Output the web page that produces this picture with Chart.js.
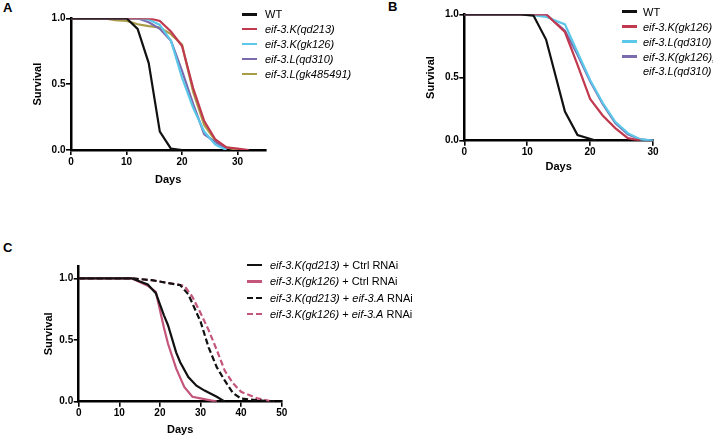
<!DOCTYPE html>
<html>
<head>
<meta charset="utf-8">
<script src="https://cdn.jsdelivr.net/npm/chart.js@4"></script>
<style>
  html, body { margin: 0; padding: 0; background: #fff; }
  #wrap { position: relative; width: 713px; height: 438px; overflow: hidden; background: #fff;
          font-family: 'Liberation Sans', Arial, Helvetica, sans-serif; color: #000; }
  .pane { position: absolute; }
  .plabel { position: absolute; font-weight: bold; font-size: 13px; line-height: 14px; }
  .lg-line { position: absolute; height: 2.5px; }
  .lg-text { position: absolute; font-size: 11px; line-height: 14px; white-space: nowrap; }
</style>
</head>
<body>
<div id="wrap">
  <div class="plabel" style="left:3px;top:1px;">A</div>
  <div class="plabel" style="left:388px;top:0px;">B</div>
  <div class="plabel" style="left:3px;top:241px;">C</div>
  <canvas id="cA" class="pane" width="285" height="200" style="left:0;top:0;"></canvas>
  <canvas id="cB" class="pane" width="310" height="200" style="left:360px;top:0;"></canvas>
  <canvas id="cC" class="pane" width="300" height="218" style="left:0;top:220px;"></canvas>
  <div id="legends"></div>
</div>
<script>
// ---------- DATA ----------
// Panel A
const A_xTicks = [0, 10, 20, 30];
const Y_ticks = [0.0, 0.5, 1.0];
const A_WT_days = [0, 10, 12, 14, 16, 18, 20];
const A_WT_surv = [1, 1, 0.92, 0.66, 0.14, 0.01, 0];
const A_qd213_days = [0, 14, 16, 18, 20, 22, 24, 26, 28, 30, 32];
const A_qd213_surv = [1, 1, 0.98, 0.9, 0.79, 0.47, 0.22, 0.08, 0.02, 0.01, 0];
const A_gk126_days = [0, 12, 14, 16, 18, 20, 22, 24, 26, 28];
const A_gk126_surv = [1, 1, 0.99, 0.95, 0.83, 0.55, 0.32, 0.14, 0.04, 0];
const A_qd310_days = [0, 12, 14, 16, 18, 20, 22, 24, 26, 28];
const A_qd310_surv = [1, 1, 0.97, 0.92, 0.83, 0.6, 0.35, 0.12, 0.06, 0.01];
const A_gk485491_days = [0, 6, 8, 10, 12, 14, 16, 18, 20, 22, 24, 26, 28, 30];
const A_gk485491_surv = [1, 1, 0.985, 0.98, 0.955, 0.94, 0.93, 0.88, 0.8, 0.44, 0.19, 0.07, 0.02, 0];

// Panel B
const B_xTicks = [0, 10, 20, 30];
const B_WT_days = [0, 9, 11, 13, 16, 18, 21];
const B_WT_surv = [1, 1, 0.99, 0.8, 0.23, 0.045, 0];
const B_gk126_days = [0, 13, 16, 18, 20, 22, 24, 26, 28];
const B_gk126_surv = [1, 1, 0.86, 0.6, 0.33, 0.2, 0.1, 0.02, 0];
const B_qd310_days = [0, 10, 13, 16, 18, 20, 22, 24, 26, 28, 30];
const B_qd310_surv = [1, 1, 0.98, 0.92, 0.7, 0.48, 0.3, 0.15, 0.06, 0.01, 0];
const B_double_days = [0, 10, 13, 16, 18, 20, 22, 24, 26, 28, 30];
const B_double_surv = [1, 1, 1, 0.87, 0.68, 0.47, 0.29, 0.14, 0.05, 0.01, 0];

// Panel C
const C_xTicks = [0, 10, 20, 30, 40, 50];
const C_qd213Ctrl_days = [0, 13, 17, 19, 21, 22, 24, 25, 27, 29, 31, 34, 36];
const C_qd213Ctrl_surv = [1, 1, 0.95, 0.88, 0.7, 0.62, 0.4, 0.32, 0.2, 0.13, 0.09, 0.04, 0];
const C_gk126Ctrl_days = [0, 13, 17, 19, 21, 22, 24, 26, 28, 30, 34];
const C_gk126Ctrl_surv = [1, 1, 0.94, 0.89, 0.6, 0.47, 0.27, 0.12, 0.04, 0.027, 0];
const C_qd213A_days = [0, 13, 18, 25, 27, 30, 32, 34, 36, 38, 40, 43, 48];
const C_qd213A_surv = [1, 1, 0.985, 0.945, 0.87, 0.65, 0.44, 0.28, 0.17, 0.07, 0.025, 0.015, 0];
const C_gk126A_days = [0, 13, 18, 26, 28, 30, 32, 34, 36, 38, 40, 44, 48];
const C_gk126A_surv = [1, 1, 0.985, 0.94, 0.85, 0.72, 0.58, 0.42, 0.25, 0.15, 0.08, 0.027, 0];

// ---------- STYLES ----------
const COL = {
  black: '#111111',
  red: '#c0394f',
  cyan: '#5bc8ea',
  purple: '#7b6aae',
  gold: '#a99c46',
  pink: '#c4557b'
};
const FONT = "'Liberation Sans', Arial, Helvetica, sans-serif";

function pts(xs, ys) { return xs.map((x, i) => ({ x: x, y: ys[i] })); }
function ds(xs, ys, color, dash, order) {
  return { data: pts(xs, ys), borderColor: color, borderWidth: 2.2, pointRadius: 0,
           tension: 0, fill: false, borderDash: dash || [], order: order || 0 };
}

function makeChart(id, cfg) {
  return new Chart(document.getElementById(id), {
    type: 'line',
    data: { datasets: cfg.datasets },
    options: {
      responsive: false, animation: false, devicePixelRatio: 1,
      layout: { padding: cfg.padding },
      plugins: { legend: { display: false }, tooltip: { enabled: false } },
      scales: {
        x: {
          type: 'linear', min: 0, max: cfg.xMax,
          afterBuildTicks: s => { s.ticks = cfg.xTicks.map(v => ({ value: v })); },
          afterFit: s => { s.height = cfg.xHeight; s.paddingLeft = 0; s.paddingRight = 0; },
          grid: { display: true, drawOnChartArea: false, color: '#000', lineWidth: 1.6, tickLength: 5 },
          border: { display: true, color: '#000', width: 2.5 },
          ticks: { color: '#000', padding: 1, font: { family: FONT, size: 10, weight: 'bold' },
                   maxRotation: 0, autoSkip: false, callback: v => String(v) },
          title: { display: true, text: 'Days', color: '#000',
                   font: { family: FONT, size: 11, weight: 'bold' }, padding: { top: 0, bottom: cfg.xTitlePad } }
        },
        y: {
          type: 'linear', min: 0, max: cfg.yMax,
          afterBuildTicks: s => { s.ticks = Y_ticks.map(v => ({ value: v })); },
          afterFit: s => { s.width = cfg.yWidth; s.paddingTop = 0; s.paddingBottom = 0; },
          grid: { display: true, drawOnChartArea: false, color: '#000', lineWidth: 1.6, tickLength: 5 },
          border: { display: true, color: '#000', width: 2.5 },
          ticks: { color: '#000', padding: 0.5, font: { family: FONT, size: 10, weight: 'bold' },
                   autoSkip: false, callback: v => Number(v).toFixed(1) },
          title: { display: true, text: 'Survival', color: '#000',
                   font: { family: FONT, size: 11, weight: 'bold' }, padding: { top: cfg.yTitlePad, bottom: 0 } }
        }
      }
    }
  });
}

makeChart('cA', {
  xMax: 35, yMax: 1.0, xTicks: A_xTicks,
  padding: { left: 0, top: 18.3, right: 19.7, bottom: 10 },
  yWidth: 71, xHeight: 40, xTitlePad: 3.4, yTitlePad: 31.4,
  datasets: [
    ds(A_WT_days, A_WT_surv, COL.black, null, 0),
    ds(A_qd213_days, A_qd213_surv, COL.red, null, 1),
    ds(A_gk126_days, A_gk126_surv, COL.cyan, null, 2),
    ds(A_qd310_days, A_qd310_surv, COL.purple, null, 3),
    ds(A_gk485491_days, A_gk485491_surv, COL.gold, null, 4)
  ]
});

makeChart('cB', {
  xMax: 30, yMax: 1.0, xTicks: B_xTicks,
  padding: { left: 0, top: 14.3, right: 17, bottom: 19.3 },
  yWidth: 104.3, xHeight: 40, xTitlePad: 7.4, yTitlePad: 64.4,
  datasets: [
    ds(B_WT_days, B_WT_surv, COL.black, null, 0),
    ds(B_gk126_days, B_gk126_surv, COL.red, null, 1),
    ds(B_double_days, B_double_surv, COL.purple, null, 3),
    ds(B_qd310_days, B_qd310_surv, COL.cyan, null, 2)
  ]
});

makeChart('cC', {
  xMax: 50, yMax: 1.1, xTicks: C_xTicks,
  padding: { left: 0, top: 46, right: 18.3, bottom: 0 },
  yWidth: 78.7, xHeight: 36.3, xTitlePad: 1.4, yTitlePad: 42.4,
  datasets: [
    ds(C_qd213Ctrl_days, C_qd213Ctrl_surv, COL.black, null, 0),
    ds(C_gk126Ctrl_days, C_gk126Ctrl_surv, COL.pink, null, 1),
    ds(C_qd213A_days, C_qd213A_surv, COL.black, [6, 3], 2),
    ds(C_gk126A_days, C_gk126A_surv, COL.pink, [6, 3], 3)
  ]
});

// ---------- LEGENDS (HTML, mixed italic text) ----------
const legA = [
  { html: 'WT', color: COL.black },
  { html: '<i>eif-3.K(qd213)</i>', color: COL.red },
  { html: '<i>eif-3.K(gk126)</i>', color: COL.cyan },
  { html: '<i>eif-3.L(qd310)</i>', color: COL.purple },
  { html: '<i>eif-3.L(gk485491)</i>', color: COL.gold }
];
const legB = [
  { html: 'WT', color: COL.black },
  { html: '<i>eif-3.K(gk126)</i>', color: COL.red },
  { html: '<i>eif-3.L(qd310)</i>', color: COL.cyan },
  { html: '<i>eif-3.K(gk126);</i><br><i>eif-3.L(qd310)</i>', color: COL.purple }
];
const legC = [
  { html: '<i>eif-3.K(qd213)</i> + Ctrl RNAi', color: COL.black },
  { html: '<i>eif-3.K(gk126)</i> + Ctrl RNAi', color: COL.pink },
  { html: '<i>eif-3.K(qd213)</i> + <i>eif-3.A</i> RNAi', color: COL.black, dash: true },
  { html: '<i>eif-3.K(gk126)</i> + <i>eif-3.A</i> RNAi', color: COL.pink, dash: true }
];

function drawLegend(items, lineX, textX, y0, dy) {
  const host = document.getElementById('legends');
  items.forEach((it, i) => {
    const cy = y0 + dy * i;
    const ln = document.createElement('div');
    ln.className = 'lg-line';
    ln.style.left = lineX + 'px';
    ln.style.top = (cy - 1.25) + 'px';
    ln.style.width = '15px';
    ln.style.background = it.dash
      ? `repeating-linear-gradient(to right, ${it.color} 0 6px, transparent 6px 9px)`
      : it.color;
    host.appendChild(ln);
    const tx = document.createElement('div');
    tx.className = 'lg-text';
    tx.style.left = textX + 'px';
    tx.style.top = (cy - 7) + 'px';
    tx.innerHTML = it.html;
    host.appendChild(tx);
  });
}
drawLegend(legA, 242, 265, 14.3, 14.9);
drawLegend(legB, 621.7, 643, 11.7, 15);
drawLegend(legC, 246.7, 270, 265, 16.4);
</script>
</body>
</html>
